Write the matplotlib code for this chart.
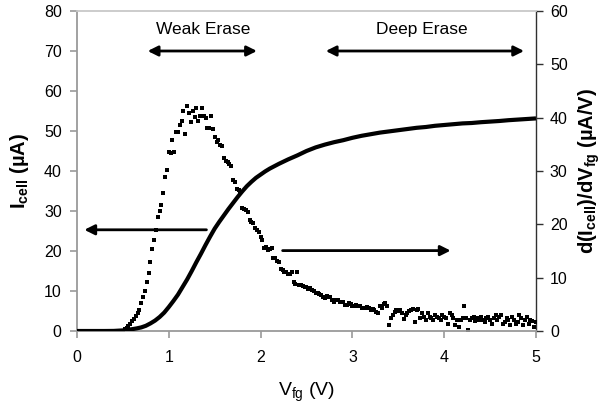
import numpy as np
import matplotlib
matplotlib.use("Agg")
import matplotlib.pyplot as plt

plt.rcParams['font.family'] = ['Liberation Sans', 'DejaVu Sans']
plt.rcParams['mathtext.fontset'] = 'custom'
plt.rcParams['mathtext.rm'] = 'Liberation Sans'
plt.rcParams['mathtext.bf'] = 'Liberation Sans:bold'
plt.rcParams['mathtext.it'] = 'Liberation Sans:italic'

# I_cell (uA) vs Vfg (V)
vfg_icell = [0.0, 0.1, 0.2, 0.3, 0.4, 0.5, 0.55, 0.6, 0.65, 0.7, 0.75, 0.8, 0.85,
             0.9, 0.95, 1.0, 1.05, 1.1, 1.15, 1.2, 1.25, 1.3, 1.35, 1.4, 1.45,
             1.5, 1.55, 1.6, 1.65, 1.7, 1.75, 1.8, 1.85, 1.9, 1.95, 2.0, 2.05,
             2.1, 2.2, 2.3, 2.4, 2.5, 2.6, 2.7, 2.8, 2.9,
             3.0, 3.1, 3.2, 3.3, 3.4, 3.5, 3.6, 3.7, 3.8, 3.9,
             4.0, 4.1, 4.2, 4.3, 4.4, 4.5, 4.6, 4.7, 4.8, 4.9, 5.0]
icell = [0, 0, 0, 0, 0.02, 0.15, 0.3, 0.45, 0.65, 0.9, 1.3, 1.9, 2.6,
         3.5, 4.6, 6.0, 7.5, 9.1, 11.0, 12.9, 15.0, 17.2, 19.3, 21.5, 23.6,
         25.6, 27.3, 28.9, 30.5, 32.0, 33.5, 34.9, 36.2, 37.3, 38.3, 39.1, 39.9,
         40.6, 41.8, 42.9, 43.9, 45.0, 45.9, 46.6, 47.2, 47.7,
         48.3, 48.8, 49.2, 49.6, 49.9, 50.2, 50.5, 50.8, 51.0, 51.3,
         51.5, 51.7, 51.9, 52.0, 52.2, 52.35, 52.5, 52.7, 52.85, 53.0, 53.15]

# d(Icell)/dVfg (uA/V), sampled every 0.02 V from 0 to 5 V
dIdV = [
    0, 0, 0, 0, 0, 0, 0, 0, 0, 0,
    0, 0, 0, 0, 0, 0, 0, 0, 0, 0,
    0, 0, 0, 0, 0, 0, 0.4, 0.6, 0.9, 1.3,
    1.8, 2.3, 2.8, 3.3, 4.0, 5.3, 6.3, 7.5, 9.1, 10.8,
    13.0, 15.3, 17.0, 19.0, 21.3, 22.5, 23.6, 25.8, 28.8, 30.2,
    33.6, 33.3, 35.8, 33.6, 37.4, 37.4, 38.6, 39.4, 41.3, 36.9,
    42.2, 40.9, 39.1, 41.3, 40.2, 41.8, 39.4, 40.4, 41.8, 40.3,
    39.9, 38.1, 38.0, 40.4, 37.9, 36.3, 35.5, 35.8, 34.9, 34.6,
    32.5, 31.9, 31.7, 31.3, 31.0, 28.4, 28.0, 26.6, 26.4, 25.8,
    23.0, 22.9, 22.6, 22.3, 20.8, 20.5, 20.2, 19.3, 18.9, 18.6,
    17.6, 17.0, 15.5, 15.8, 15.2, 15.3, 15.5, 13.6, 13.6, 13.2,
    13.0, 11.6, 11.4, 11.1, 11.1, 10.7, 10.7, 11.1, 9.2, 8.9,
    11.0, 8.6, 8.6, 8.5, 8.3, 8.3, 7.9, 8.1, 7.7, 7.5,
    7.1, 7.2, 6.9, 6.75, 6.4, 6.1, 6.6, 6.4, 6.4, 5.9,
    5.5, 5.9, 5.8, 5.4, 5.5, 5.5, 4.9, 4.9, 5.2, 5.0,
    4.7, 4.6, 4.8, 4.6, 4.6, 4.4, 4.3, 4.3, 4.5, 4.3,
    4.0, 4.2, 3.9, 3.6, 3.3, 4.6, 4.4, 5.0, 5.2, 4.7,
    1.1, 2.4, 3.0, 3.6, 3.9, 3.7, 3.9, 3.3, 2.2, 3.0,
    3.4, 3.8, 3.9, 4.1, 1.7, 3.9, 4.1, 2.4, 3.3, 2.7,
    2.1, 3.3, 2.7, 2.4, 2.1, 3.0, 2.7, 2.4, 2.0, 3.0,
    2.7, 2.4, 1.4, 3.3, 3.0, 2.4, 1.1, 2.1, 0.8, 2.1,
    2.4, 4.7, 2.4, 0.2, 2.1, 2.4, 2.7, 1.8, 2.4, 2.1,
    2.6, 2.1, 1.75, 2.4, 2.7, 2.1, 1.4, 2.4, 3.0, 2.1,
    2.7, 3.0, 1.4, 1.75, 2.4, 2.1, 1.1, 2.7, 2.1, 1.4,
    1.75, 3.0, 2.4, 1.1, 2.1, 2.7, 1.4, 2.1, 1.8, 0.8,
    1.6,
]
vfg_d = np.round(np.arange(len(dIdV)) * 0.02, 2)

x_ticks = [0, 1, 2, 3, 4, 5]
left_ticks = [0, 10, 20, 30, 40, 50, 60, 70, 80]
right_ticks = [0, 10, 20, 30, 40, 50, 60]

fig = plt.figure(figsize=(6.05, 4.13), dpi=100)
ax = fig.add_axes([77/605, 1 - 331/413, (536 - 77)/605, (331 - 11)/413])
ax2 = ax.twinx()

ax2.plot(vfg_d, dIdV, linestyle='none', marker='s', ms=3.4, color='black',
         markeredgewidth=0, zorder=3)
ax.plot(vfg_icell, icell, color='black', lw=3.0, solid_capstyle='butt',
        solid_joinstyle='round', zorder=3)

ax.set_xlim(0, 5)
ax.set_ylim(0, 80)
ax2.set_ylim(0, 60)
ax.set_xticks(x_ticks)
ax.set_yticks(left_ticks)
ax2.set_yticks(right_ticks)

ax.set_zorder(ax2.get_zorder() + 1)
ax.patch.set_visible(False)

gray = '#9a9a9a'
for s in ['left', 'bottom']:
    ax.spines[s].set_color(gray)
    ax.spines[s].set_linewidth(1.3)
ax.spines['top'].set_color('#c8c8c8')
ax.spines['top'].set_linewidth(1.3)
ax.spines['right'].set_visible(False)
for s in ['left', 'bottom', 'top']:
    ax2.spines[s].set_visible(False)
ax2.spines['right'].set_color('#303030')
ax2.spines['right'].set_linewidth(1.0)

ax.tick_params(axis='both', direction='out', length=5, width=1.2, color=gray,
               labelsize=11.5, pad=6, labelcolor='black')
ax.tick_params(axis='x', pad=9)
ax2.tick_params(axis='y', direction='out', length=5, width=1.0, color='#303030',
                labelsize=11.5, pad=5, labelcolor='black')

ax.set_ylabel(r'I$_{\mathbf{cell}}$ (µA)', fontsize=14.5, fontweight='bold', labelpad=9)
ax2.set_ylabel(r'd(I$_{\mathbf{cell}}$)/dV$_{\mathbf{fg}}$ (µA/V)', fontsize=14.5,
               fontweight='bold', rotation=90, labelpad=6)
ax.set_xlabel(r'V$_{\mathrm{fg}}$ (V)', fontsize=14, labelpad=11)

arrow_kw = dict(arrowstyle='-|>', color='black', lw=2.0, mutation_scale=15,
                shrinkA=0, shrinkB=0)
dbl_kw = dict(arrowstyle='<|-|>', color='black', lw=2.0, mutation_scale=15,
              shrinkA=0, shrinkB=0)

ax.annotate('', xy=(0.77, 70), xytext=(1.96, 70), arrowprops=dbl_kw)
ax.text(1.38, 75.3, 'Weak Erase', ha='center', va='center', fontsize=12.5)
ax.annotate('', xy=(2.71, 70), xytext=(4.87, 70), arrowprops=dbl_kw)
ax.text(3.76, 75.3, 'Deep Erase', ha='center', va='center', fontsize=12.5)

ax.annotate('', xy=(0.08, 25.3), xytext=(1.41, 25.3), arrowprops=arrow_kw)
ax.annotate('', xy=(4.07, 20.1), xytext=(2.24, 20.1), arrowprops=arrow_kw)

fig.savefig('out.png', dpi=100)
